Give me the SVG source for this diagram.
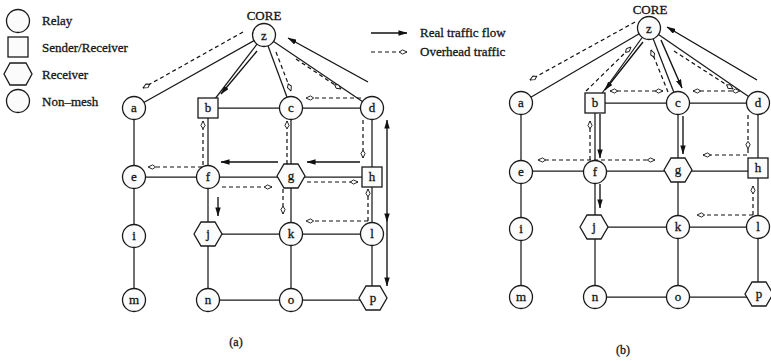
<svg xmlns="http://www.w3.org/2000/svg" width="771" height="361" viewBox="0 0 771 361">
  <style>
    text { font-family: "Liberation Serif", "Times New Roman", serif; fill: #151515; stroke: #151515; stroke-width: 0.3; }
    .lbl { font-size: 13px; text-anchor: middle; }
    .leg { font-size: 13px; }
    .cap { font-size: 12px; text-anchor: middle; }
    .node { fill: #fbfbfb; stroke: #1a1a1a; stroke-width: 1.3; }
    .edge { stroke: #1a1a1a; stroke-width: 1.25; fill: none; }
    .real { stroke: #111; stroke-width: 1.35; fill: none; marker-end: url(#head-solid); }
    .over { stroke: #111; stroke-width: 1.2; fill: none; stroke-dasharray: 4 3; marker-end: url(#head-open); }
    .both { marker-start: url(#head-open); }
  </style>
  <defs>
    <marker id="head-solid" viewBox="0 0 10 6" refX="9.5" refY="3" markerWidth="9" markerHeight="5.5" markerUnits="userSpaceOnUse" orient="auto-start-reverse">
      <path d="M0,0 L10,3 L0,6 z" fill="#111"/>
    </marker>
    <marker id="head-open" viewBox="0 0 10 6" refX="9.5" refY="3" markerWidth="9" markerHeight="5.5" markerUnits="userSpaceOnUse" orient="auto-start-reverse">
      <path d="M1,3 L4.5,0.7 L9.5,3 L4.5,5.3 z" fill="#fff" stroke="#111" stroke-width="1" stroke-dasharray="none"/>
    </marker>
    <circle id="circ" r="11.5"/>
    <rect id="sq" x="-10" y="-10" width="20" height="20"/>
    <polygon id="hex" points="-14,0 -7,-12 7,-12 14,0 7,12 -7,12"/>
  </defs>

  <rect width="771" height="361" fill="#ffffff"/>

  <!-- legend: node kinds -->
  <g id="legend-nodes">
    <use href="#circ" class="node" x="18" y="21"/>
    <text class="leg" x="42" y="25">Relay</text>
    <use href="#sq" class="node" x="18" y="47"/>
    <text class="leg" x="42" y="52">Sender/Receiver</text>
    <polygon class="node" points="4,74 10,63 26,63 32,74 26,85 10,85"/>
    <text class="leg" x="42" y="79">Receiver</text>
    <use href="#circ" class="node" x="18" y="101"/>
    <text class="leg" x="42" y="106">Non&#8211;mesh</text>
  </g>

  <!-- legend: traffic kinds -->
  <g id="legend-traffic">
    <line class="real" x1="371" y1="33" x2="407" y2="33"/>
    <text class="leg" x="420" y="37">Real traffic flow</text>
    <line class="over" x1="371" y1="52" x2="407" y2="52"/>
    <text class="leg" x="420" y="56">Overhead traffic</text>
  </g>

  <!-- ===== (a) ===== -->
  <g id="connectors-a">
    <line class="edge" x1="264" y1="35" x2="134" y2="108"/>
    <line class="edge" x1="264" y1="35" x2="208" y2="108"/>
    <line class="edge" x1="264" y1="35" x2="291" y2="108"/>
    <line class="edge" x1="264" y1="35" x2="372" y2="108"/>
    <line class="edge" x1="208" y1="108" x2="372" y2="108"/>
    <line class="edge" x1="134" y1="108" x2="134" y2="300"/>
    <line class="edge" x1="208" y1="108" x2="208" y2="300"/>
    <line class="edge" x1="291" y1="108" x2="291" y2="300"/>
    <line class="edge" x1="372" y1="108" x2="372" y2="300"/>
    <line class="edge" x1="134" y1="177" x2="372" y2="177"/>
    <line class="edge" x1="208" y1="234" x2="372" y2="234"/>
    <line class="edge" x1="208" y1="300" x2="372" y2="300"/>
  </g>

  <g id="a-z"><use href="#circ" class="node" x="264" y="35"/><text class="lbl" x="264" y="40">z</text></g>
  <text class="lbl" x="264" y="20">CORE</text>
  <g id="a-a"><use href="#circ" class="node" x="134" y="108"/><text class="lbl" x="134" y="112">a</text></g>
  <g id="a-b"><use href="#sq" class="node" x="208" y="108"/><text class="lbl" x="208" y="112">b</text></g>
  <g id="a-c"><use href="#circ" class="node" x="291" y="108"/><text class="lbl" x="291" y="112">c</text></g>
  <g id="a-d"><use href="#circ" class="node" x="372" y="108"/><text class="lbl" x="372" y="112">d</text></g>
  <g id="a-e"><use href="#circ" class="node" x="134" y="177"/><text class="lbl" x="134" y="181">e</text></g>
  <g id="a-f"><use href="#circ" class="node" x="208" y="177"/><text class="lbl" x="208" y="181">f</text></g>
  <g id="a-g"><use href="#hex" class="node" x="291" y="176"/><text class="lbl" x="291" y="180">g</text></g>
  <g id="a-h"><use href="#sq" class="node" x="372" y="177"/><text class="lbl" x="372" y="181">h</text></g>
  <g id="a-i"><use href="#circ" class="node" x="134" y="236"/><text class="lbl" x="134" y="240">i</text></g>
  <g id="a-j"><use href="#hex" class="node" x="208" y="234"/><text class="lbl" x="208" y="238">j</text></g>
  <g id="a-k"><use href="#circ" class="node" x="291" y="234"/><text class="lbl" x="291" y="238">k</text></g>
  <g id="a-l"><use href="#circ" class="node" x="372" y="234"/><text class="lbl" x="372" y="238">l</text></g>
  <g id="a-m"><use href="#circ" class="node" x="134" y="300"/><text class="lbl" x="134" y="304">m</text></g>
  <g id="a-n"><use href="#circ" class="node" x="208" y="300"/><text class="lbl" x="208" y="304">n</text></g>
  <g id="a-o"><use href="#circ" class="node" x="291" y="300"/><text class="lbl" x="291" y="304">o</text></g>
  <g id="a-p"><use href="#hex" class="node" x="373" y="298"/><text class="lbl" x="373" y="302">p</text></g>
  <text class="cap" x="236" y="346">(a)</text>

  <g id="traffic-a">
    <line class="over" x1="243" y1="32" x2="143" y2="88"/>
    <line class="real" x1="257" y1="51" x2="221" y2="94"/>
    <line class="over" x1="276" y1="52" x2="291" y2="91"/>
    <line class="over" x1="296" y1="59" x2="341" y2="89"/>
    <line class="real" x1="368" y1="82" x2="288" y2="38"/>
    <line class="over" x1="361" y1="98" x2="306" y2="98"/>
    <line class="over" x1="203" y1="165" x2="203" y2="121"/>
    <line class="over" x1="287" y1="164" x2="287" y2="121"/>
    <line class="over" x1="363" y1="120" x2="363" y2="158"/>
    <line class="real" x1="387" y1="176" x2="387" y2="120"/>
    <line class="real" x1="387" y1="176" x2="387" y2="222"/>
    <line class="real" x1="387" y1="222" x2="387" y2="286"/>
    <line class="real" x1="360" y1="162" x2="307" y2="162"/>
    <line class="real" x1="278" y1="162" x2="221" y2="162"/>
    <line class="over" x1="202" y1="167" x2="148" y2="167"/>
    <line class="over" x1="222" y1="187" x2="272" y2="187"/>
    <line class="over" x1="307" y1="182" x2="358" y2="182"/>
    <line class="real" x1="218" y1="197" x2="218" y2="216"/>
    <line class="over" x1="283" y1="189" x2="283" y2="214"/>
    <line class="over" x1="368" y1="221" x2="306" y2="221"/>
    <line class="over" x1="368" y1="221" x2="368" y2="189"/>
  </g>

  <!-- ===== (b) ===== -->
  <g id="connectors-b">
    <line class="edge" x1="649" y1="28" x2="521" y2="103"/>
    <line class="edge" x1="649" y1="28" x2="595" y2="103"/>
    <line class="edge" x1="649" y1="28" x2="678" y2="103"/>
    <line class="edge" x1="649" y1="28" x2="758" y2="103"/>
    <line class="edge" x1="595" y1="103" x2="758" y2="103"/>
    <line class="edge" x1="521" y1="103" x2="521" y2="297"/>
    <line class="edge" x1="595" y1="103" x2="595" y2="297"/>
    <line class="edge" x1="678" y1="103" x2="678" y2="297"/>
    <line class="edge" x1="758" y1="103" x2="758" y2="297"/>
    <line class="edge" x1="521" y1="171" x2="758" y2="171"/>
    <line class="edge" x1="595" y1="227" x2="758" y2="227"/>
    <line class="edge" x1="595" y1="297" x2="758" y2="297"/>
  </g>

  <g id="b-z"><use href="#circ" class="node" x="649" y="28"/><text class="lbl" x="649" y="33">z</text></g>
  <text class="lbl" x="650" y="14">CORE</text>
  <g id="b-a"><use href="#circ" class="node" x="521" y="103"/><text class="lbl" x="521" y="107">a</text></g>
  <g id="b-b"><use href="#sq" class="node" x="595" y="103"/><text class="lbl" x="595" y="107">b</text></g>
  <g id="b-c"><use href="#circ" class="node" x="678" y="103"/><text class="lbl" x="678" y="107">c</text></g>
  <g id="b-d"><use href="#circ" class="node" x="758" y="103"/><text class="lbl" x="758" y="107">d</text></g>
  <g id="b-e"><use href="#circ" class="node" x="521" y="172"/><text class="lbl" x="521" y="176">e</text></g>
  <g id="b-f"><use href="#circ" class="node" x="595" y="172"/><text class="lbl" x="595" y="176">f</text></g>
  <g id="b-g"><use href="#hex" class="node" x="678" y="170"/><text class="lbl" x="678" y="174">g</text></g>
  <g id="b-h"><use href="#sq" class="node" x="758" y="168"/><text class="lbl" x="758" y="172">h</text></g>
  <g id="b-i"><use href="#circ" class="node" x="521" y="229"/><text class="lbl" x="521" y="233">i</text></g>
  <g id="b-j"><use href="#hex" class="node" x="594" y="227"/><text class="lbl" x="594" y="231">j</text></g>
  <g id="b-k"><use href="#circ" class="node" x="678" y="227"/><text class="lbl" x="678" y="231">k</text></g>
  <g id="b-l"><use href="#circ" class="node" x="758" y="227"/><text class="lbl" x="758" y="231">l</text></g>
  <g id="b-m"><use href="#circ" class="node" x="521" y="297"/><text class="lbl" x="521" y="301">m</text></g>
  <g id="b-n"><use href="#circ" class="node" x="595" y="297"/><text class="lbl" x="595" y="301">n</text></g>
  <g id="b-o"><use href="#circ" class="node" x="678" y="297"/><text class="lbl" x="678" y="301">o</text></g>
  <g id="b-p"><use href="#hex" class="node" x="759" y="294"/><text class="lbl" x="759" y="298">p</text></g>
  <text class="cap" x="623" y="354">(b)</text>

  <g id="traffic-b">
    <line class="over" x1="635" y1="22" x2="530" y2="80"/>
    <line class="over" x1="586" y1="91" x2="631" y2="47"/>
    <line class="real" x1="643" y1="42" x2="605" y2="90"/>
    <line class="over" x1="668" y1="92" x2="651" y2="50"/>
    <line class="real" x1="661" y1="40" x2="682" y2="88"/>
    <line class="over both" x1="610" y1="91" x2="663" y2="91"/>
    <line class="over both" x1="693" y1="91" x2="740" y2="91"/>
    <line class="over" x1="674" y1="51" x2="733" y2="89"/>
    <line class="real" x1="757" y1="80" x2="667" y2="27"/>
    <line class="over" x1="590" y1="160" x2="590" y2="121"/>
    <line class="real" x1="600" y1="114" x2="600" y2="158"/>
    <line class="real" x1="600" y1="184" x2="600" y2="208"/>
    <line class="real" x1="683" y1="116" x2="683" y2="154"/>
    <line class="over both" x1="538" y1="160" x2="655" y2="160"/>
    <line class="over" x1="748" y1="115" x2="748" y2="149"/>
    <path class="over" d="M748,149 V155 H703"/>
    <line class="over" x1="753" y1="215" x2="753" y2="186"/>
    <line class="over" x1="753" y1="215" x2="697" y2="215"/>
  </g>
</svg>
